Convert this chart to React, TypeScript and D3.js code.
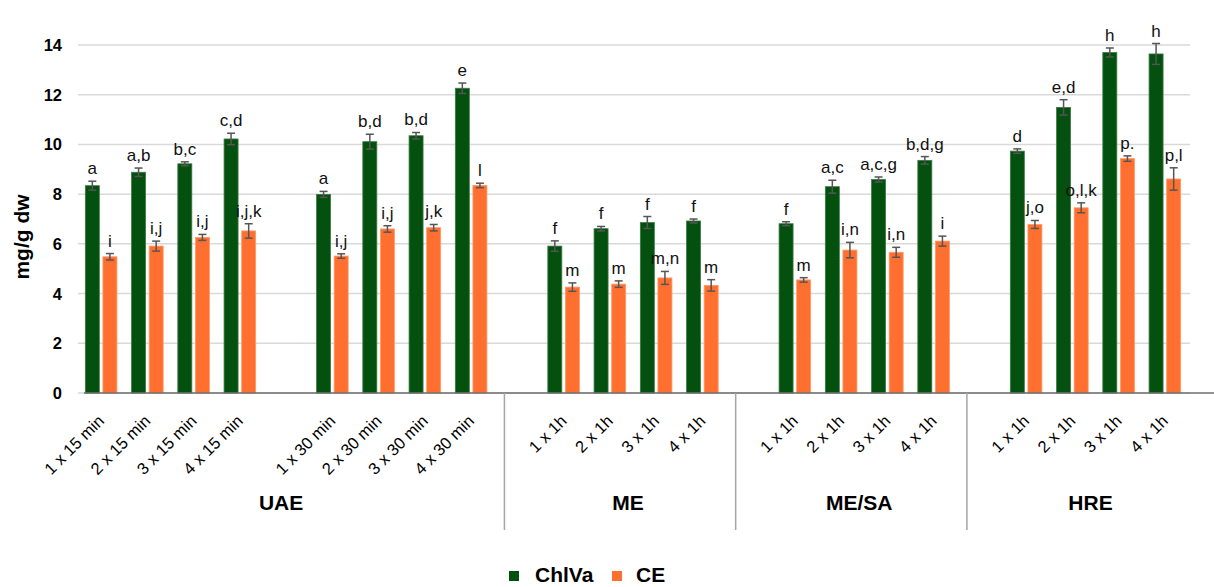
import React from "react";
import * as d3 from "d3";

const categories = [
  "1 x 15 min", "2 x 15 min", "3 x 15 min", "4 x 15 min", "",
  "1 x 30 min", "2 x 30 min", "3 x 30 min", "4 x 30 min", "",
  "1 x 1h", "2 x 1h", "3 x 1h", "4 x 1h", "",
  "1 x 1h", "2 x 1h", "3 x 1h", "4 x 1h", "",
  "1 x 1h", "2 x 1h", "3 x 1h", "4 x 1h",
];

const groupLabels = ["UAE", "ME", "ME/SA", "HRE"];
const groupFirst = [0, 10, 15, 20];
const groupLast = [8, 13, 18, 23];
const separatorSlots = [9, 14, 19];

const chlva = [8.34, 8.88, 9.22, 10.22, null, 7.99, 10.11, 10.35, 12.26, null,
  5.91, 6.61, 6.86, 6.92, null, 6.81, 8.30, 8.59, 9.36, null, 9.73, 11.49, 13.70, 13.64];
const chlvaErr = [0.18, 0.17, 0.08, 0.23, null, 0.12, 0.3, 0.13, 0.21, null,
  0.21, 0.09, 0.24, 0.08, null, 0.08, 0.26, 0.1, 0.15, null, 0.09, 0.31, 0.18, 0.42];
const chlvaSig = ["a", "a,b", "b,c", "c,d", null, "a", "b,d", "b,d", "e", null,
  "f", "f", "f", "f", null, "f", "a,c", "a,c,g", "b,d,g", null, "d", "e,d", "h", "h"];

const ce = [5.48, 5.91, 6.26, 6.52, null, 5.51, 6.60, 6.65, 8.35, null,
  4.26, 4.38, 4.63, 4.33, null, 4.55, 5.75, 5.66, 6.11, null, 6.78, 7.45, 9.43, 8.61];
const ceErr = [0.13, 0.2, 0.12, 0.29, null, 0.09, 0.13, 0.13, 0.09, null,
  0.17, 0.13, 0.26, 0.23, null, 0.09, 0.31, 0.2, 0.2, null, 0.16, 0.2, 0.11, 0.45];
const ceSig = ["i", "i,j", "i,j", "i,j,k", null, "i,j", "i,j", "j,k", "l", null,
  "m", "m", "m,n", "m", null, "m", "i,n", "i,n", "i", null, "j,o", "o,l,k", "p.", "p,l"];

const yTicks = [0, 2, 4, 6, 8, 10, 12, 14];
const seriesNames = ["ChlVa", "CE"];
const seriesColors = ["#03500f", "#ff7030"];

const FONT = "'Liberation Sans', Arial, sans-serif";

export default function App() {
  const W = 1214, H = 587;
  const x = d3.scaleBand<number>().domain(d3.range(categories.length)).range([78, 1188]);
  const y = d3.scaleLinear().domain([0, 14]).range([393, 45]);
  const barW = 14;
  const gap = 3.6;
  const series = [
    { vals: chlva, errs: chlvaErr, sig: chlvaSig, off: -(barW / 2 + gap / 2) },
    { vals: ce, errs: ceErr, sig: ceSig, off: barW / 2 + gap / 2 },
  ];
  const cx = (i: number) => (x(i) as number) + x.bandwidth() / 2;

  return (
    <svg width={W} height={H} style={{ position: "absolute", left: 0, top: 0, background: "#fff" }} fontFamily={FONT}>
      {/* gridlines */}
      {yTicks.map((t) => (
        <line key={"g" + t} x1={78} x2={1190} y1={y(t)} y2={y(t)} stroke="#d9d9d9" strokeWidth={1.5} />
      ))}
      {/* y tick labels */}
      {yTicks.map((t) => (
        <text key={"t" + t} x={62} y={y(t)} dy="0.36em" textAnchor="end" fontSize={16.5} fontWeight="bold" fill="#000">
          {t}
        </text>
      ))}
      {/* y axis title */}
      <text transform={`translate(29,237) rotate(-90)`} textAnchor="middle" fontSize={21} fontWeight="bold" fill="#000">
        mg/g dw
      </text>
      {/* bars */}
      {series.map((s, si) =>
        s.vals.map((v, i) =>
          v == null ? null : (
            <rect key={`b${si}-${i}`} x={cx(i) + s.off - barW / 2} y={y(v)} width={barW} height={y(0) - y(v)}
              fill={seriesColors[si]} stroke={si === 0 ? "#3f7a45" : "#ff9a66"} strokeWidth={0.8} />
          )
        )
      )}
      {/* error bars */}
      {series.map((s, si) =>
        s.vals.map((v, i) => {
          if (v == null || s.errs[i] == null) return null;
          const e = s.errs[i] as number;
          const bx = cx(i) + s.off;
          return (
            <g key={`e${si}-${i}`} stroke="#555" strokeWidth={1.5}>
              <line x1={bx} x2={bx} y1={y(v + e)} y2={y(v - e)} />
              <line x1={bx - 4} x2={bx + 4} y1={y(v + e)} y2={y(v + e)} />
              <line x1={bx - 4} x2={bx + 4} y1={y(v - e)} y2={y(v - e)} />
            </g>
          );
        })
      )}
      {/* significance letters */}
      {series.map((s, si) =>
        s.vals.map((v, i) => {
          if (v == null || s.sig[i] == null) return null;
          const e = (s.errs[i] as number) || 0;
          return (
            <text key={`s${si}-${i}`} x={cx(i) + s.off} y={y(v + e) - 7} textAnchor="middle" fontSize={17} fill="#111">
              {s.sig[i]}
            </text>
          );
        })
      )}
      {/* baseline axis */}
      <line x1={84} x2={1214} y1={y(0)} y2={y(0)} stroke="#6e6e6e" strokeWidth={1.5} />
      {/* separators */}
      {separatorSlots.map((si) => {
        const sx = (x(si) as number) + x.step() * 0.22;
        return <line key={"sep" + si} x1={sx} x2={sx} y1={y(0)} y2={530} stroke="#a6a6a6" strokeWidth={1.5} />;
      })}
      {/* category labels */}
      {categories.map((c, i) =>
        c === "" ? null : (
          <text key={"c" + i} transform={`translate(${cx(i) + 4},422) rotate(-45)`} textAnchor="end" fontSize={16.5} fill="#000">
            {c}
          </text>
        )
      )}
      {/* group labels */}
      {groupLabels.map((g, gi) => {
        const gx = d3.mean(d3.range(groupFirst[gi], groupLast[gi] + 1).filter((i) => categories[i] !== ""), cx) as number;
        return (
          <text key={"grp" + g} x={gx - 5} y={510} textAnchor="middle" fontSize={21} fontWeight="bold" fill="#000">
            {g}
          </text>
        );
      })}
      {/* legend */}
      <g>
        <rect x={509} y={571} width={10} height={10} fill={seriesColors[0]} />
        <text x={535} y={582} fontSize={21} fontWeight="bold" fill="#000">{seriesNames[0]}</text>
        <rect x={612} y={571} width={10} height={10} fill={seriesColors[1]} />
        <text x={636} y={582} fontSize={21} fontWeight="bold" fill="#000">{seriesNames[1]}</text>
      </g>
    </svg>
  );
}
